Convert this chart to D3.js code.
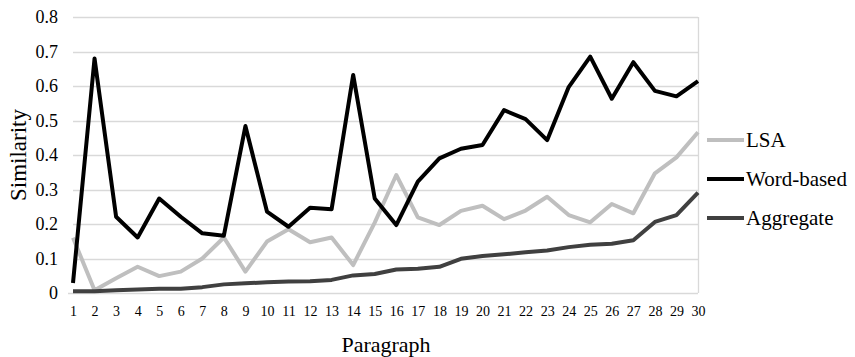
<!DOCTYPE html>
<html>
<head>
<meta charset="utf-8">
<script src="https://cdn.jsdelivr.net/npm/d3@7"></script>
</head>
<body style="margin:0;padding:0;background:#fff;">
<svg id="chart" width="855" height="357" style="display:block;"></svg>
<script>
const paragraphs = d3.range(1, 31);
const lsa = [0.16, 0.008, 0.043, 0.076, 0.049, 0.062, 0.100, 0.161, 0.062, 0.149,
             0.185, 0.147, 0.161, 0.081, 0.204, 0.342, 0.219, 0.197, 0.238, 0.253,
             0.214, 0.239, 0.279, 0.226, 0.205, 0.258, 0.231, 0.347, 0.393, 0.466];
const wordBased = [0.029, 0.680, 0.221, 0.161, 0.274, 0.221, 0.173, 0.166, 0.484, 0.236,
                   0.192, 0.247, 0.243, 0.632, 0.274, 0.197, 0.323, 0.390, 0.418, 0.429,
                   0.530, 0.504, 0.443, 0.597, 0.685, 0.563, 0.669, 0.586, 0.570, 0.614];
const aggregate = [0.005, 0.005, 0.008, 0.010, 0.012, 0.012, 0.017, 0.025, 0.028, 0.031,
                   0.033, 0.034, 0.038, 0.051, 0.055, 0.068, 0.070, 0.076, 0.099, 0.107,
                   0.112, 0.118, 0.123, 0.133, 0.140, 0.143, 0.153, 0.206, 0.226, 0.291];
const yTicks = [0, 0.1, 0.2, 0.3, 0.4, 0.5, 0.6, 0.7, 0.8];
const yTickLabels = ["0", "0.1", "0.2", "0.3", "0.4", "0.5", "0.6", "0.7", "0.8"];
const seriesNames = ["LSA", "Word-based", "Aggregate"];
const seriesColors = ["#bfbfbf", "#000000", "#404040"];

const FONT = "'Liberation Serif', 'Times New Roman', Times, 'DejaVu Serif', serif";

const series = [lsa, wordBased, aggregate].map((vals, i) => ({
  name: seriesNames[i], color: seriesColors[i], values: vals
}));

const svg = d3.select("#chart").style("font-family", FONT);
const mLeft = 73, mRight = 698, mTop = 17, mBottom = 293;

const x = d3.scaleLinear().domain([1, 30]).range([mLeft, mRight]);
const y = d3.scaleLinear().domain([0, 0.8]).range([mBottom, mTop]);

// gridlines
svg.append("g").selectAll("line").data(yTicks).join("line")
  .attr("x1", d => d === 0 ? mLeft - 5 : mLeft)
  .attr("x2", mRight)
  .attr("y1", d => Math.round(y(d)) + 0.5)
  .attr("y2", d => Math.round(y(d)) + 0.5)
  .attr("stroke", "#d9d9d9").attr("stroke-width", 1.3);

// right border
svg.append("line")
  .attr("x1", mRight + 0.5).attr("x2", mRight + 0.5)
  .attr("y1", y(0.8)).attr("y2", y(0))
  .attr("stroke", "#d9d9d9").attr("stroke-width", 1.3);

// y tick labels
const yAxis = d3.axisLeft(y).tickValues(yTicks)
  .tickFormat((d, i) => yTickLabels[i]).tickSize(0).tickPadding(15);
const gy = svg.append("g").attr("transform", `translate(${mLeft},0)`).call(yAxis);
gy.select(".domain").remove();
gy.selectAll("text").style("font-family", FONT).attr("font-size", 18).attr("fill", "#000");

// x tick labels
const xAxis = d3.axisBottom(x).tickValues(paragraphs).tickFormat(d => d)
  .tickSize(0).tickPadding(13);
const gx = svg.append("g").attr("transform", `translate(0,${mBottom})`).call(xAxis);
gx.select(".domain").remove();
gx.selectAll("text").style("font-family", FONT).attr("font-size", 14).attr("fill", "#000");

// lines
const line = d3.line().x((d, i) => x(paragraphs[i])).y(d => y(d));
svg.append("g").selectAll("path").data(series).join("path")
  .attr("d", d => line(d.values))
  .attr("fill", "none")
  .attr("stroke", d => d.color)
  .attr("stroke-width", 4)
  .attr("stroke-linejoin", "round")
  .attr("stroke-linecap", "butt");

// axis titles
svg.append("text")
  .style("font-family", FONT)
  .attr("x", 386).attr("y", 352)
  .attr("text-anchor", "middle")
  .attr("font-size", 22)
  .text("Paragraph");

svg.append("text")
  .style("font-family", FONT)
  .attr("transform", "translate(26,155) rotate(-90)")
  .attr("text-anchor", "middle")
  .attr("font-size", 23)
  .text("Similarity");

// legend
const legendY = [140, 179, 218];
const lg = svg.append("g").selectAll("g").data(series).join("g")
  .attr("transform", (d, i) => `translate(0,${legendY[i]})`);
lg.append("line")
  .attr("x1", 707).attr("x2", 744)
  .attr("y1", 0).attr("y2", 0)
  .attr("stroke", d => d.color).attr("stroke-width", 4);
lg.append("text")
  .style("font-family", FONT)
  .attr("x", 746).attr("y", 7)
  .attr("font-size", 21)
  .text(d => d.name);
</script>
</body>
</html>
